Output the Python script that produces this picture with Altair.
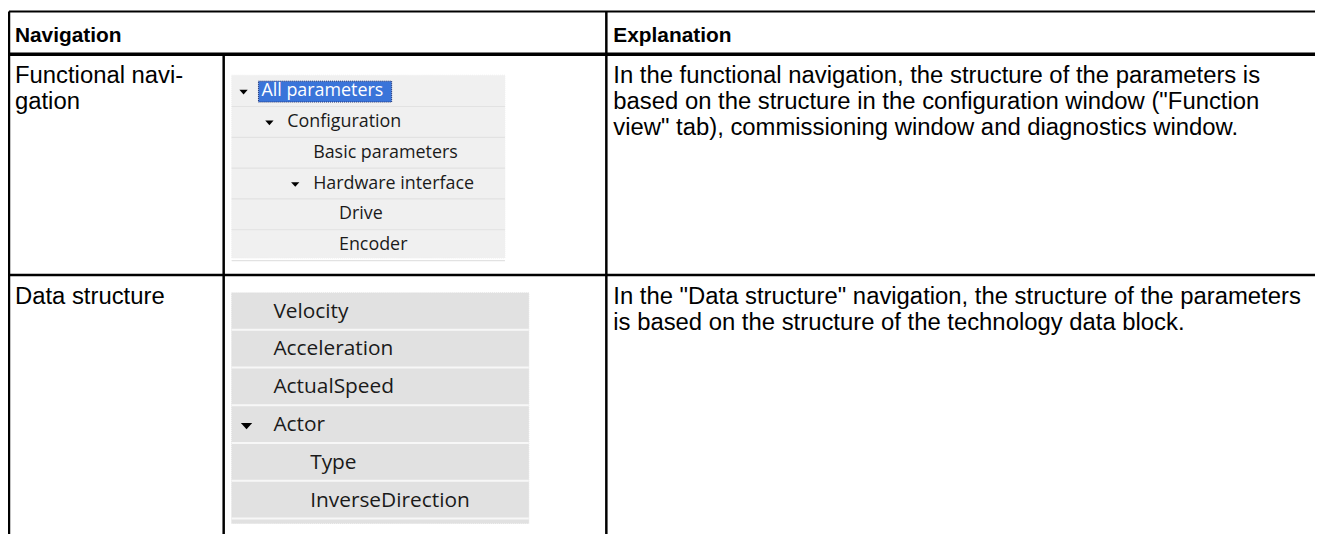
import altair as alt
import pandas as pd

# ---------------- data (content) ----------------
header_labels = ["Navigation", "Explanation"]
row_labels = [["Functional navi-", "gation"], ["Data structure"]]
explanations = [
    ["In the functional navigation, the structure of the parameters is",
     "based on the structure in the configuration window (\"Function",
     "view\" tab), commissioning window and diagnostics window."],
    ["In the \"Data structure\" navigation, the structure of the parameters",
     "is based on the structure of the technology data block."],
]
tree1_items = ["All parameters", "Configuration", "Basic parameters",
               "Hardware interface", "Drive", "Encoder"]
tree1_levels = [0, 1, 2, 2, 3, 3]
tree1_expanded = [True, True, False, True, False, False]
tree2_items = ["Velocity", "Acceleration", "ActualSpeed", "Actor",
               "Type", "InverseDirection"]
tree2_levels = [0, 0, 0, 0, 1, 1]
tree2_expanded = [False, False, False, True, False, False]
selected_item = "All parameters"

# ---------------- layout (pixel positions in page coordinates) ----------------
IMG_W, IMG_H, MARGIN = 1323, 534, 8
T_LEFT, T_TOP, T_RIGHT, T_BOTTOM = 9, 10, 1323, 540
HEAD_BOTTOM, ROW_SPLIT = 53, 275
COL_SPLIT, INNER_SPLIT = 610, 225
TXT_L, TXT_R = 15, 617
HEAD_Y = 35
ROW_TEXT_Y = [75, 297]
LINE_GAP = 26

P1 = dict(left=233, right=508, top=74, first=16, row_h=31, tail=13,
          text_x=263, indent=26, arrow_dx=18, arrow_size=70, size=18)
P2 = dict(left=233, right=532, top=293, first=19, row_h=38, tail=23,
          text_x=275, indent=37, arrow_dx=27, arrow_size=130, size=21)
SEL_W = 134
ARROW_PATH = "M-1,-0.55L1,-0.55L0,0.55Z"

# ---------------- build tables ----------------
rects, rules, body, heads, tree_txt, arrows = [], [], [], [], [], []

rules += [
    dict(x=T_LEFT, x2=T_RIGHT, y=T_TOP, y2=T_TOP, w=2),
    dict(x=T_LEFT, x2=T_RIGHT, y=HEAD_BOTTOM, y2=HEAD_BOTTOM, w=3.5),
    dict(x=T_LEFT, x2=T_RIGHT, y=ROW_SPLIT, y2=ROW_SPLIT, w=2.5),
    dict(x=T_LEFT, x2=T_LEFT, y=T_TOP, y2=T_BOTTOM, w=2.5),
    dict(x=COL_SPLIT, x2=COL_SPLIT, y=T_TOP, y2=T_BOTTOM, w=2.5),
    dict(x=INNER_SPLIT, x2=INNER_SPLIT, y=HEAD_BOTTOM, y2=T_BOTTOM, w=2.5),
]

heads.append(dict(x=TXT_L, y=HEAD_Y, t=header_labels[0]))
heads.append(dict(x=TXT_R, y=HEAD_Y, t=header_labels[1]))

for r, lines in enumerate(row_labels):
    for i, t in enumerate(lines):
        body.append(dict(x=TXT_L, y=ROW_TEXT_Y[r] + i * LINE_GAP, t=t))
for r, lines in enumerate(explanations):
    for i, t in enumerate(lines):
        body.append(dict(x=TXT_R, y=ROW_TEXT_Y[r] + i * LINE_GAP, t=t))


def tree_panel(P, items, levels, expanded, bg, sep, sep_w, sep_dy):
    n = len(items)
    centers = [P["top"] + P["first"] + i * P["row_h"] for i in range(n)]
    bottom = centers[-1] + P["tail"]
    rects.append(dict(x=P["left"], x2=P["right"], y=P["top"], y2=bottom,
                      fill=bg, stroke=bg))
    for cy in centers:
        yy = cy + sep_dy
        rules.append(dict(x=P["left"], x2=P["right"], y=yy, y2=yy, w=sep_w, c=sep))
    for cy, t, lv, ex in zip(centers, items, levels, expanded):
        tx = P["text_x"] + lv * P["indent"]
        sel = t == selected_item
        if sel:
            rects.append(dict(x=tx - 3, x2=tx - 3 + SEL_W, y=cy - 10, y2=cy + 11,
                              fill="#3a74d9", stroke="#1d2f73"))
        tree_txt.append(dict(x=tx, y=cy, t=t, s=P["size"],
                             c="#ffffff" if sel else "#1a1a1a"))
        if ex:
            arrows.append(dict(x=tx - P["arrow_dx"], y=cy + 1, sz=P["arrow_size"]))


tree_panel(P1, tree1_items, tree1_levels, tree1_expanded,
           "#f0f0f0", "#e2e2e2", 1.2, 15.5)
tree_panel(P2, tree2_items, tree2_levels, tree2_expanded,
           "#e1e1e1", "#f7f7f7", 2, 18)

for r in rules:
    r.setdefault("c", "#000000")

# ---------------- scales ----------------
W = IMG_W - MARGIN
H = IMG_H - MARGIN
xs = alt.Scale(domain=[MARGIN, IMG_W], range=[0, W], nice=False, zero=False)
ys = alt.Scale(domain=[MARGIN, IMG_H], range=[0, H], nice=False, zero=False)
X = lambda f="x": alt.X(f"{f}:Q", scale=xs, axis=None)
Y = lambda f="y": alt.Y(f"{f}:Q", scale=ys, axis=None)

rect_layer = alt.Chart(pd.DataFrame(rects)).mark_rect(strokeWidth=1, strokeDash=[1, 1]).encode(
    x=X(), x2="x2:Q", y=Y(), y2="y2:Q",
    fill=alt.Fill("fill:N", scale=None), stroke=alt.Stroke("stroke:N", scale=None))

rule_layer = alt.Chart(pd.DataFrame(rules)).mark_rule().encode(
    x=X(), x2="x2:Q", y=Y(), y2="y2:Q",
    strokeWidth=alt.StrokeWidth("w:Q", scale=None),
    color=alt.Color("c:N", scale=None))

head_layer = alt.Chart(pd.DataFrame(heads)).mark_text(
    align="left", baseline="middle", font="Liberation Sans", fontWeight="bold",
    fontSize=21, color="#000000").encode(x=X(), y=Y(), text="t:N")

body_layer = alt.Chart(pd.DataFrame(body)).mark_text(
    align="left", baseline="middle", font="Liberation Sans",
    fontSize=24, color="#000000").encode(x=X(), y=Y(), text="t:N")

tree_layer = alt.Chart(pd.DataFrame(tree_txt)).mark_text(
    align="left", baseline="middle", font="Open Sans").encode(
    x=X(), y=Y(), text="t:N",
    size=alt.Size("s:Q", scale=None),
    color=alt.Color("c:N", scale=None))

arrow_layer = alt.Chart(pd.DataFrame(arrows)).mark_point(
    shape=ARROW_PATH, filled=True, color="#000000", opacity=1).encode(
    x=X(), y=Y(), size=alt.Size("sz:Q", scale=None))

chart = alt.layer(rect_layer, rule_layer, head_layer, body_layer, tree_layer, arrow_layer).properties(
    width=W, height=H, padding=0,
    autosize=alt.AutoSizeParams(type="none"),
).configure_view(stroke=None)

chart.save("out.html", embed_options={"renderer": "svg", "actions": False})
